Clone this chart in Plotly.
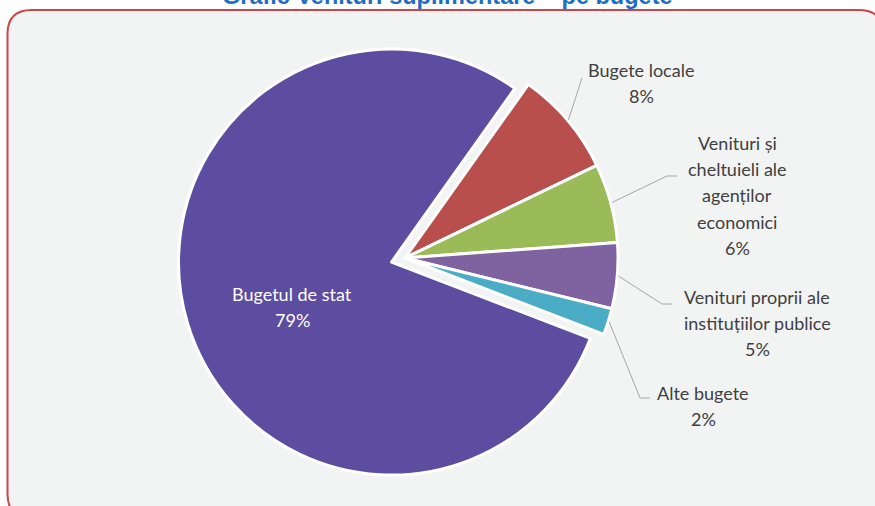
import math
import plotly.graph_objects as go

# Budget categories and their shares (%)
categories = [
    "Bugetul de stat",
    "Bugete locale",
    "Venituri și cheltuieli ale agenților economici",
    "Venituri proprii ale instituțiilor publice",
    "Alte bugete",
]
values = [79, 8, 6, 5, 2]
colors = ["#5C4DA0", "#B94F4C", "#9BBB59", "#7F62A0", "#4BACC6"]
pulls = [0.066, 0, 0, 0, 0]

# Label text, split over lines as displayed
label_lines = [
    ["Bugetul de stat"],
    ["Bugete locale"],
    ["Venituri și", "cheltuieli ale", "agenților", "economici"],
    ["Venituri proprii ale", "instituțiilor publice"],
    ["Alte bugete"],
]

TITLE = "Grafic Venituri suplimentare – pe bugete"

# ---- geometry (pixels) ----
W, H = 875, 506
CX, CY = 405, 258      # pie centre
R = 213                # pie radius
ROT = 111              # start angle of first slice, clockwise from 12 o'clock
FS = 18
LINE_GAP = 26.3
TITLE_FS = 23.5

# label anchor: (centre x, baseline of first line, text colour)
label_pos = [
    (292, 300, "white"),
    (641, 76, "#404040"),
    (737, 149, "#404040"),
    (757, 303, "#404040"),
    (703, 399, "#404040"),
]
# leader line bends (after the slice-edge start point)
leader_bends = [
    None,
    [(582, 78)],
    [(667, 176), (677, 176)],
    [(662, 304), (672, 304)],
    [(640, 398), (650, 398)],
]


def px(x):
    return x / W


def py(y):
    return 1 - y / H


half = R * (1 + max(pulls))
domain_x = [(CX - 350) / W, (CX + 350) / W]
domain_y = [(H - CY - half) / H, (H - CY + half) / H]

fig = go.Figure(
    go.Pie(
        labels=categories,
        values=values,
        sort=False,
        direction="clockwise",
        rotation=ROT,
        pull=pulls,
        marker=dict(colors=colors, line=dict(color="white", width=3)),
        textinfo="none",
        hoverinfo="skip",
        domain=dict(x=domain_x, y=domain_y),
        showlegend=False,
    )
)

shapes = []
# rounded panel behind the chart
L_, T_, R_, B_, rad = 7.5, 10, 883, 518, 24
panel = (
    f"M {px(L_ + rad)},{py(T_)} L {px(R_ - rad)},{py(T_)} "
    f"Q {px(R_)},{py(T_)} {px(R_)},{py(T_ + rad)} "
    f"L {px(R_)},{py(B_ - rad)} Q {px(R_)},{py(B_)} {px(R_ - rad)},{py(B_)} "
    f"L {px(L_ + rad)},{py(B_)} Q {px(L_)},{py(B_)} {px(L_)},{py(B_ - rad)} "
    f"L {px(L_)},{py(T_ + rad)} Q {px(L_)},{py(T_)} {px(L_ + rad)},{py(T_)} Z"
)
shapes.append(dict(type="path", path=panel, xref="paper", yref="paper",
                   fillcolor="#F2F3F3", line=dict(color="#C9474A", width=2),
                   layer="below"))

total = sum(values)
annotations = []
cum = 0
for i, v in enumerate(values):
    mid = math.radians(ROT + 360 * (cum + v / 2) / total)
    cum += v
    bends = leader_bends[i]
    if bends:
        sx = CX + (R + 1) * math.sin(mid)
        sy = CY - (R + 1) * math.cos(mid)
        pts = [(sx, sy)] + bends
        path = "M " + " L ".join(f"{px(x)},{py(y)}" for x, y in pts)
        shapes.append(dict(type="path", path=path, xref="paper", yref="paper",
                           line=dict(color="#A6A6A6", width=1)))
    lx, ly, col = label_pos[i]
    lines = label_lines[i] + [f"{round(v / total * 100)}%"]
    for k, t in enumerate(lines):
        base = ly + k * LINE_GAP
        annotations.append(dict(
            text=t, x=px(lx), y=py(base - 0.35 * FS), xref="paper", yref="paper",
            xanchor="center", yanchor="middle", showarrow=False,
            font=dict(family="Lato", size=FS, color=col),
        ))

# title, partly above the top edge of the page
annotations.append(dict(
    text=f"<b>{TITLE}</b>", x=px(447), y=py(4.5 - 0.35 * TITLE_FS), xref="paper", yref="paper",
    xanchor="center", yanchor="middle", showarrow=False,
    font=dict(family="Liberation Sans", size=TITLE_FS, color="#1F6EBF"),
))

fig.update_layout(
    width=W, height=H,
    margin=dict(l=0, r=0, t=0, b=0),
    paper_bgcolor="white",
    plot_bgcolor="white",
    shapes=shapes,
    annotations=annotations,
)

fig.write_html("out.html")
